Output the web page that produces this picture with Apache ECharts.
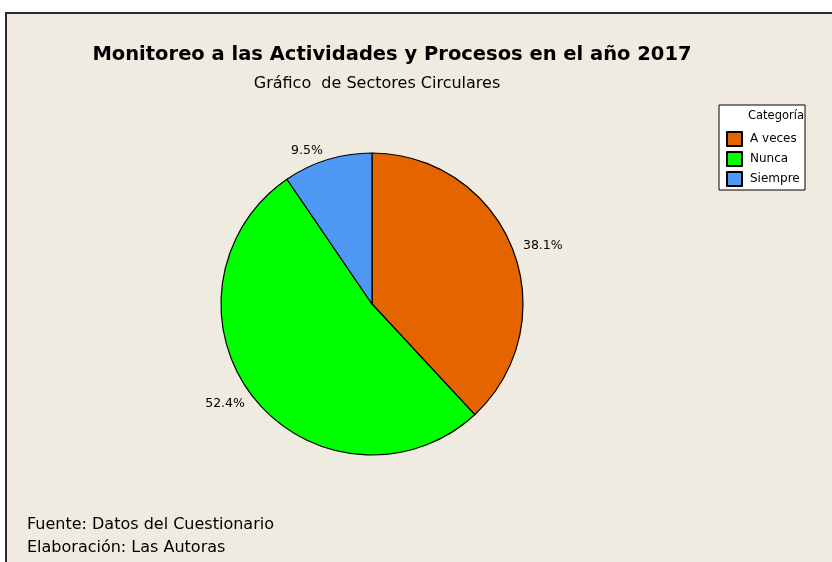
<!DOCTYPE html>
<html>
<head>
<meta charset="utf-8">
<script src="https://cdn.jsdelivr.net/npm/echarts@6/dist/echarts.min.js"></script>
<style>
html,body{margin:0;padding:0;background:#fff;}
#chart{width:832px;height:562px;}
</style>
</head>
<body>
<div id="chart"></div>
<script>
const categories = ['A veces', 'Nunca', 'Siempre'];
const counts = [8, 11, 2];
const colors = ['#E46400', '#00FF00', '#4F98F3'];
const titleText = 'Monitoreo a las Actividades y Procesos en el año 2017';
const subtitleText = 'Gráfico  de Sectores Circulares';
const legendTitle = 'Categoría';
const footerLines = ['Fuente: Datos del Cuestionario', 'Elaboración: Las Autoras'];

const FONT = '"DejaVu Sans", Verdana, sans-serif';
const chart = echarts.init(document.getElementById('chart'));
chart.setOption({
  backgroundColor: '#ffffff',
  animation: false,
  graphic: [
    { type: 'rect', z: -10, shape: { x: 6, y: 13, width: 840, height: 560 },
      style: { fill: '#EFEBE1', stroke: '#2a2a2a', lineWidth: 2 } },
    { type: 'rect', z: 5, shape: { x: 719, y: 105, width: 86, height: 85 },
      style: { fill: '#FFFFFF', stroke: '#000000', lineWidth: 1 } },
    { type: 'text', z: 6, left: 748, top: 110,
      style: { text: legendTitle, fontFamily: FONT, fontSize: 11.5, fill: '#000' } },
    { type: 'text', z: 6, left: 27, top: 513,
      style: { text: footerLines.join('\n'), fontFamily: FONT, fontSize: 16, lineHeight: 23, fill: '#000' } }
  ],
  title: [
    { text: titleText, left: 387, top: 40, textAlign: 'center',
      textStyle: { fontFamily: FONT, fontWeight: 'bold', fontSize: 19.5, color: '#000' } },
    { text: subtitleText, left: 372, top: 71, textAlign: 'center',
      textStyle: { fontFamily: FONT, fontWeight: 'normal', fontSize: 16, color: '#000' } }
  ],
  legend: {
    orient: 'vertical', left: 726, top: 131, z: 10, padding: 0,
    itemWidth: 15, itemHeight: 14, itemGap: 4,
    icon: 'rect',
    textStyle: { fontFamily: FONT, fontSize: 12, color: '#000', padding: [0, 0, 0, 3] },
    data: categories
  },
  series: [{
    type: 'pie',
    center: [372, 304],
    radius: 151,
    startAngle: 90,
    clockwise: true,
    avoidLabelOverlap: false,
    percentPrecision: 1,
    itemStyle: { borderColor: '#000', borderWidth: 1.2 },
    label: {
      show: true, position: 'outside', formatter: '{d}%',
      fontFamily: FONT, fontSize: 12.5, color: '#000',
      distanceToLabelLine: 2
    },
    labelLine: { show: false, length: 9, length2: 0 },
    emphasis: { disabled: true },
    data: categories.map((c, i) => ({ name: c, value: counts[i], itemStyle: { color: colors[i] } }))
  }]
});
</script>
</body>
</html>
